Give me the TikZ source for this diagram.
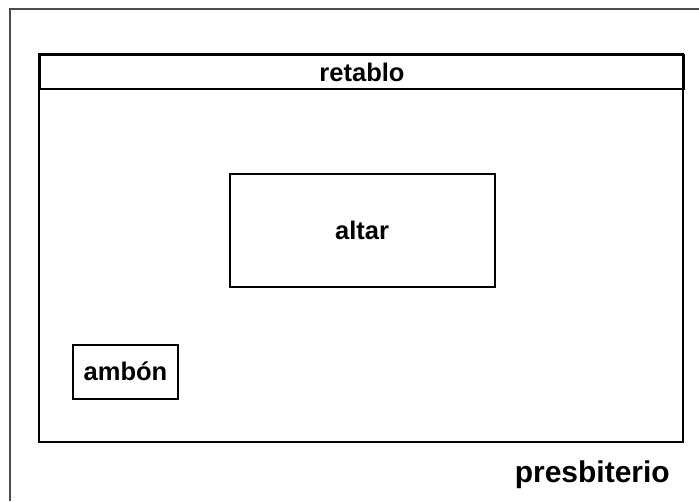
\documentclass[tikz,border=0pt]{standalone}
\usepackage{fontspec}
\setmainfont{Liberation Sans}
\usepackage{tikz}

\begin{document}
\begin{tikzpicture}[x=1pt, y=-1pt,
		caixa/.style={draw, line width=2pt, inner sep=0pt},
		rotulo/.style={font=\bfseries\fontsize{25.5}{30}\selectfont}]
			\useasboundingbox (0, 0) rectangle (699, 501);
			% moldura
			\draw[gray!60!black, line width=1.8pt] (699, 9) -- (10, 9) -- (10, 501);
			% presbiterio
			\draw[line width=2pt] (39, 54) rectangle (683, 442);
			\node[caixa, rotulo, anchor=north west, minimum width=644pt, minimum height=34pt] (retablo) at (39, 54) {retablo};
			\node[caixa, rotulo, minimum width=265pt, minimum height=113pt] (altar) at (362, 230) {altar};
			\node[caixa, rotulo, minimum width=105pt, minimum height=54pt] (ambon) at (125.5, 371.5) {ambón};
			\node[rotulo, font=\bfseries\fontsize{30}{36}\selectfont, anchor=base east, inner sep=0pt] (presbiterio) at (670, 482) {presbiterio};
		\end{tikzpicture}
\end{document}
